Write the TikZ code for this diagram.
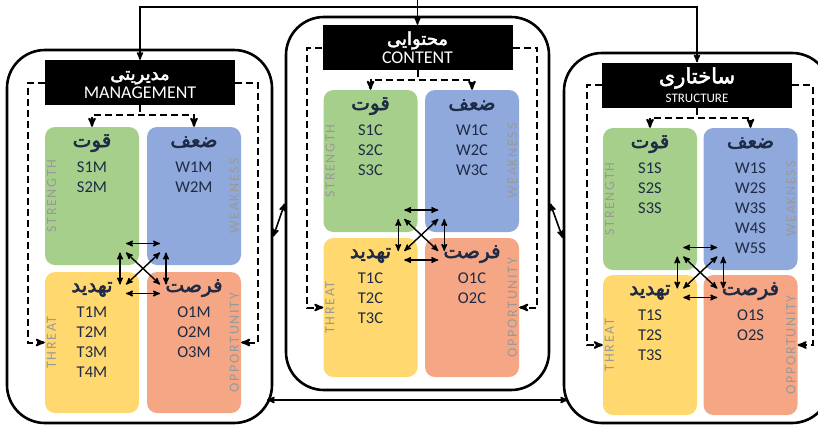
\documentclass[tikz,border=0pt]{standalone}
\usepackage{fontspec}
\setmainfont{Carlito}
\newfontfamily\fafont[Script=Arabic,FakeBold=2.5]{DejaVu Sans}
\newfontfamily\labfont[LetterSpace=12]{Carlito}
\TeXXeTstate=1
\usepackage{tikz}
\usetikzlibrary{arrows}
\usetikzlibrary{calc}

\definecolor{strcol}{HTML}{A6CF8B}
\definecolor{wkcol}{HTML}{8FA9DC}
\definecolor{thrcol}{HTML}{FFD86F}
\definecolor{oppcol}{HTML}{F5A685}
\definecolor{itemcol}{HTML}{1F2B45}
\definecolor{labcol}{HTML}{999999}

\newcommand{\fa}[2][20]{{\fafont\fontsize{#1}{20}\selectfont\rule{0pt}{14pt}\beginR #2\endR}}

\begin{document}
\begin{tikzpicture}[>=stealth',x=1pt,y=-1pt]
		\tikzstyle{panel}=[rectangle,draw,line width=2.6pt,rounded corners=38pt,minimum height=373pt];
		\tikzstyle{header}=[rectangle,fill=black,text=white,minimum width=190pt,minimum height=45pt,
			align=center,inner sep=0pt,font=\fontsize{18}{19}\selectfont];
		\tikzstyle{quad}=[rectangle,rounded corners=10pt,minimum width=94pt,inner sep=0pt];
		\tikzstyle{items}=[align=center,anchor=north,inner sep=0pt,text=itemcol,font=\fontsize{16.5}{20}\selectfont];
		\tikzstyle{sidelab}=[rotate=90,inner sep=2pt,text=labcol,font=\labfont\fontsize{14}{14}\selectfont];
		\tikzstyle{dashline}=[dash pattern=on 7pt off 4pt,line width=2pt];
		\tikzstyle{link}=[line width=1.6pt];
		\tikzstyle{cross}=[<->,line width=1.4pt];
		\useasboundingbox (0,0) rectangle (818,429);
		\clip (0,0) rectangle (818,429);

		% management
		\node[panel,minimum width=265pt](mp) at (139.5,236.5){};
		\node[header](mh) at (140,82.5){\fa[18]{مدیریتی}\\MANAGEMENT};
		\node[quad,fill=strcol,minimum height=138pt](ms) at (92,196){};
		\node[quad,fill=wkcol,minimum height=138pt](mw) at (194,196){};
		\node[quad,fill=thrcol,minimum height=141pt](mt) at (92,342.5){};
		\node[quad,fill=oppcol,minimum height=141pt](mo) at (194,342.5){};
		\node[items] at ([yshift=-6pt]ms.north){\fa{قوت}\\[5pt]S1M\\S2M};
		\node[items] at ([yshift=-6pt]mw.north){\fa{ضعف}\\[5pt]W1M\\W2M};
		\node[items] at ([yshift=-6pt]mt.north){\fa{تهدید}\\[5pt]T1M\\T2M\\T3M\\T4M};
		\node[items] at ([yshift=-6pt]mo.north){\fa{فرصت}\\[5pt]O1M\\O2M\\O3M};
		\node[sidelab,anchor=north] at (ms.west){STRENGTH};
		\node[sidelab,anchor=south] at (mw.east){WEAKNESS};
		\node[sidelab,anchor=north] at (mt.west){THREAT};
		\node[sidelab,anchor=south] at (mo.east){OPPORTUNITY};
		\draw[dashline,->](mh.west) -| ([xshift=-17pt]mt.west) -- (mt.west);
		\draw[dashline,->](mh.east) -| ([xshift=17pt]mo.east) -- (mo.east);
		\draw[dashline](mh.south) -- ([yshift=-10pt]mh.south);
		\draw[dashline,<->](ms.north) |- ([yshift=-10pt]mh.south) -| (mw.north);
		\coordinate (mx) at ($(ms.south east)!0.5!(mo.north west)$);
		\draw[cross]([shift={(-17,-25)}]mx) -- ([shift={(17,-25)}]mx);
		\draw[cross]([shift={(-17,25)}]mx) -- ([shift={(17,25)}]mx);
		\draw[cross]([shift={(-23,-16)}]mx) -- ([shift={(-23,16)}]mx);
		\draw[cross]([shift={(23,-16)}]mx) -- ([shift={(23,16)}]mx);
		\draw[cross]([shift={(-17,-16)}]mx) -- ([shift={(17,16)}]mx);
		\draw[cross]([shift={(-17,16)}]mx) -- ([shift={(17,-16)}]mx);

		% content
		\node[panel,minimum width=263pt](cp) at (417.5,203.5){};
		\node[header](ch) at (417.5,47.5){\fa[18]{محتوایی}\\CONTENT};
		\node[quad,fill=strcol,minimum height=142pt](cs) at (370.5,161){};
		\node[quad,fill=wkcol,minimum height=142pt](cw) at (472,161){};
		\node[quad,fill=thrcol,minimum height=139pt](ct) at (370.5,307.5){};
		\node[quad,fill=oppcol,minimum height=139pt](co) at (472,307.5){};
		\node[items] at ([yshift=-6pt]cs.north){\fa{قوت}\\[5pt]S1C\\S2C\\S3C};
		\node[items] at ([yshift=-6pt]cw.north){\fa{ضعف}\\[5pt]W1C\\W2C\\W3C};
		\node[items] at ([yshift=-6pt]ct.north){\fa{تهدید}\\[5pt]T1C\\T2C\\T3C};
		\node[items] at ([yshift=-6pt]co.north){\fa{فرصت}\\[5pt]O1C\\O2C};
		\node[sidelab,anchor=north] at (cs.west){STRENGTH};
		\node[sidelab,anchor=south] at (cw.east){WEAKNESS};
		\node[sidelab,anchor=north] at (ct.west){THREAT};
		\node[sidelab,anchor=south] at (co.east){OPPORTUNITY};
		\draw[dashline,->](ch.west) -| ([xshift=-16pt]ct.west) -- (ct.west);
		\draw[dashline,->](ch.east) -| ([xshift=18pt]co.east) -- (co.east);
		\draw[dashline](ch.south) -- ([yshift=-10pt]ch.south);
		\draw[dashline,<->](cs.north) |- ([yshift=-10pt]ch.south) -| (cw.north);
		\coordinate (cx) at ($(cs.south east)!0.5!(co.north west)$);
		\draw[cross]([shift={(-17,-25)}]cx) -- ([shift={(17,-25)}]cx);
		\draw[cross]([shift={(-17,25)}]cx) -- ([shift={(17,25)}]cx);
		\draw[cross]([shift={(-23,-16)}]cx) -- ([shift={(-23,16)}]cx);
		\draw[cross]([shift={(23,-16)}]cx) -- ([shift={(23,16)}]cx);
		\draw[cross]([shift={(-17,-16)}]cx) -- ([shift={(17,16)}]cx);
		\draw[cross]([shift={(-17,16)}]cx) -- ([shift={(17,-16)}]cx);

		% structure
		\node[panel,minimum width=266pt,minimum height=370pt](rp) at (697,238){};
		\node[header](rh) at (697,85){\fa[21]{ساختاری}\\{\fontsize{13}{13}\selectfont STRUCTURE}};
		\node[quad,fill=strcol,minimum height=142pt](rs) at (650,199){};
		\node[quad,fill=wkcol,minimum height=142pt](rw) at (750.5,199){};
		\node[quad,fill=thrcol,minimum height=140pt](rt) at (650,345){};
		\node[quad,fill=oppcol,minimum height=140pt](ro) at (750.5,345){};
		\node[items] at ([yshift=-6pt]rs.north){\fa{قوت}\\[5pt]S1S\\S2S\\S3S};
		\node[items] at ([yshift=-6pt]rw.north){\fa{ضعف}\\[5pt]W1S\\W2S\\W3S\\W4S\\W5S};
		\node[items] at ([yshift=-6pt]rt.north){\fa{تهدید}\\[5pt]T1S\\T2S\\T3S};
		\node[items] at ([yshift=-6pt]ro.north){\fa{فرصت}\\[5pt]O1S\\O2S};
		\node[sidelab,anchor=north] at (rs.west){STRENGTH};
		\node[sidelab,anchor=south] at (rw.east){WEAKNESS};
		\node[sidelab,anchor=north] at (rt.west){THREAT};
		\node[sidelab,anchor=south] at (ro.east){OPPORTUNITY};
		\draw[dashline,->](rh.west) -| ([xshift=-16pt]rt.west) -- (rt.west);
		\draw[dashline,->](rh.east) -| ([xshift=15pt]ro.east) -- (ro.east);
		\draw[dashline](rh.south) -- ([yshift=-10pt]rh.south);
		\draw[dashline,<->](rs.north) |- ([yshift=-10pt]rh.south) -| (rw.north);
		\coordinate (rx) at ($(rs.south east)!0.5!(ro.north west)$);
		\draw[cross]([shift={(-17,-25)}]rx) -- ([shift={(17,-25)}]rx);
		\draw[cross]([shift={(-17,25)}]rx) -- ([shift={(17,25)}]rx);
		\draw[cross]([shift={(-23,-16)}]rx) -- ([shift={(-23,16)}]rx);
		\draw[cross]([shift={(23,-16)}]rx) -- ([shift={(23,16)}]rx);
		\draw[cross]([shift={(-17,-16)}]rx) -- ([shift={(17,16)}]rx);
		\draw[cross]([shift={(-17,16)}]rx) -- ([shift={(17,-16)}]rx);

		% links between panels
		\coordinate (top) at (417.5,0);
		\coordinate (bus) at (417.5,7);
		\draw[link,->](top) -- (ch.north);
		\draw[link,<->](mh.north) |- (bus) -| (rh.north);
		\draw[link,<->](mp.east) -- (cp.west);
		\draw[link,<->](cp.east) -- (rp.west);
		\coordinate (bl) at (267,400);
		\coordinate (br) at (568,400);
		\draw[link,<->](bl) -- (br);
	\end{tikzpicture}
\end{document}
